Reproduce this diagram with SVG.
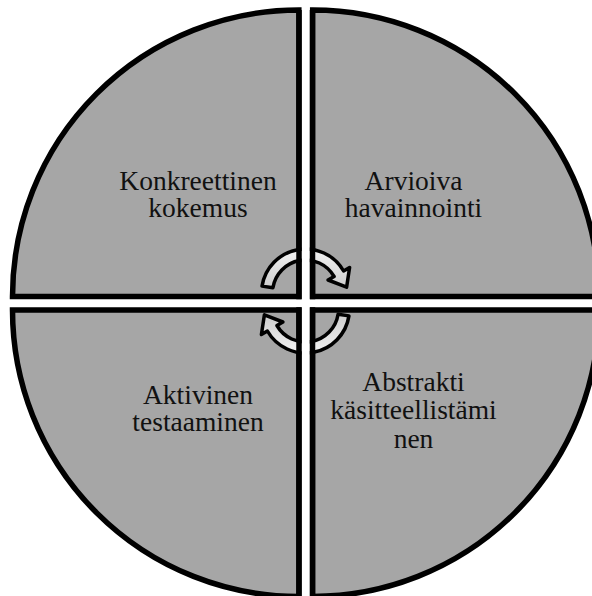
<svg xmlns="http://www.w3.org/2000/svg" width="592" height="596" viewBox="0 0 592 596">
  <defs>
    <style>
      .quad { fill: #a6a6a6; stroke: #000; stroke-width: 5.5; stroke-linejoin: miter; }
      .edge { fill: none; stroke: #000; stroke-width: 5.5; stroke-linejoin: miter; }
      .lbl { font-family: "Liberation Serif", "Times New Roman", serif; font-size: 27.5px; fill: #111; text-anchor: middle; }
      .arrow { fill: url(#arrowGrad); stroke: #000; stroke-width: 3.5; stroke-linejoin: round; }
    </style>
    <linearGradient id="arrowGrad" x1="0" y1="0" x2="0" y2="1">
      <stop offset="0" stop-color="#f2f2f2"/>
      <stop offset="1" stop-color="#cdcdcd"/>
    </linearGradient>
    <path id="cycArrow" d="M262.04,286.12 A44,44 0 0 1 343.61,271 L349.6,267.5 L346.6,287.2 L328.1,280 L334.08,276.5 A33,33 0 0 0 272.91,287.84 Z"/>
  </defs>
  <rect width="592" height="596" fill="#fff"/>

  <g id="quadrant-tl">
    <path class="quad" d="M299,296.5 L299,10 A286.5,286.5 0 0 0 12.5,296.5 Z"/>
  </g>
  <g id="quadrant-tr">
    <path class="quad" d="M312.5,296.5 L312.5,10 A286.5,286.5 0 0 1 599,296.5 Z"/>
  </g>
  <g id="quadrant-bl">
    <path class="quad" d="M299,310 L12.5,310 A286.5,286.5 0 0 0 299,596.5 Z"/>
  </g>
  <g id="quadrant-br">
    <path class="quad" d="M312.5,310 L599,310 A286.5,286.5 0 0 1 312.5,596.5 Z"/>
  </g>

  <g id="connectors">
    <use href="#cycArrow" class="arrow"/>
    <use href="#cycArrow" class="arrow" transform="rotate(180 305.5 301)"/>
  </g>

  <g id="gap-overlay">
    <rect x="301.75" y="0" width="8" height="596" fill="#fff"/>
    <line class="edge" x1="299" y1="10" x2="299" y2="299.25"/>
    <line class="edge" x1="312.5" y1="10" x2="312.5" y2="299.25"/>
    <line class="edge" x1="299" y1="307.25" x2="299" y2="596.5"/>
    <line class="edge" x1="312.5" y1="307.25" x2="312.5" y2="596.5"/>
  </g>

  <g id="label-tl">
    <text class="lbl" x="198" y="190">Konkreettinen</text>
    <text class="lbl" x="198" y="217.3">kokemus</text>
  </g>
  <g id="label-tr">
    <text class="lbl" x="413.5" y="190">Arvioiva</text>
    <text class="lbl" x="413.5" y="217.3">havainnointi</text>
  </g>
  <g id="label-bl">
    <text class="lbl" x="198" y="404">Aktivinen</text>
    <text class="lbl" x="198" y="431.3">testaaminen</text>
  </g>
  <g id="label-br">
    <text class="lbl" x="413.5" y="390.7">Abstrakti</text>
    <text class="lbl" x="413.5" y="419.3">käsitteellistämi</text>
    <text class="lbl" x="413.5" y="448">nen</text>
  </g>
</svg>
